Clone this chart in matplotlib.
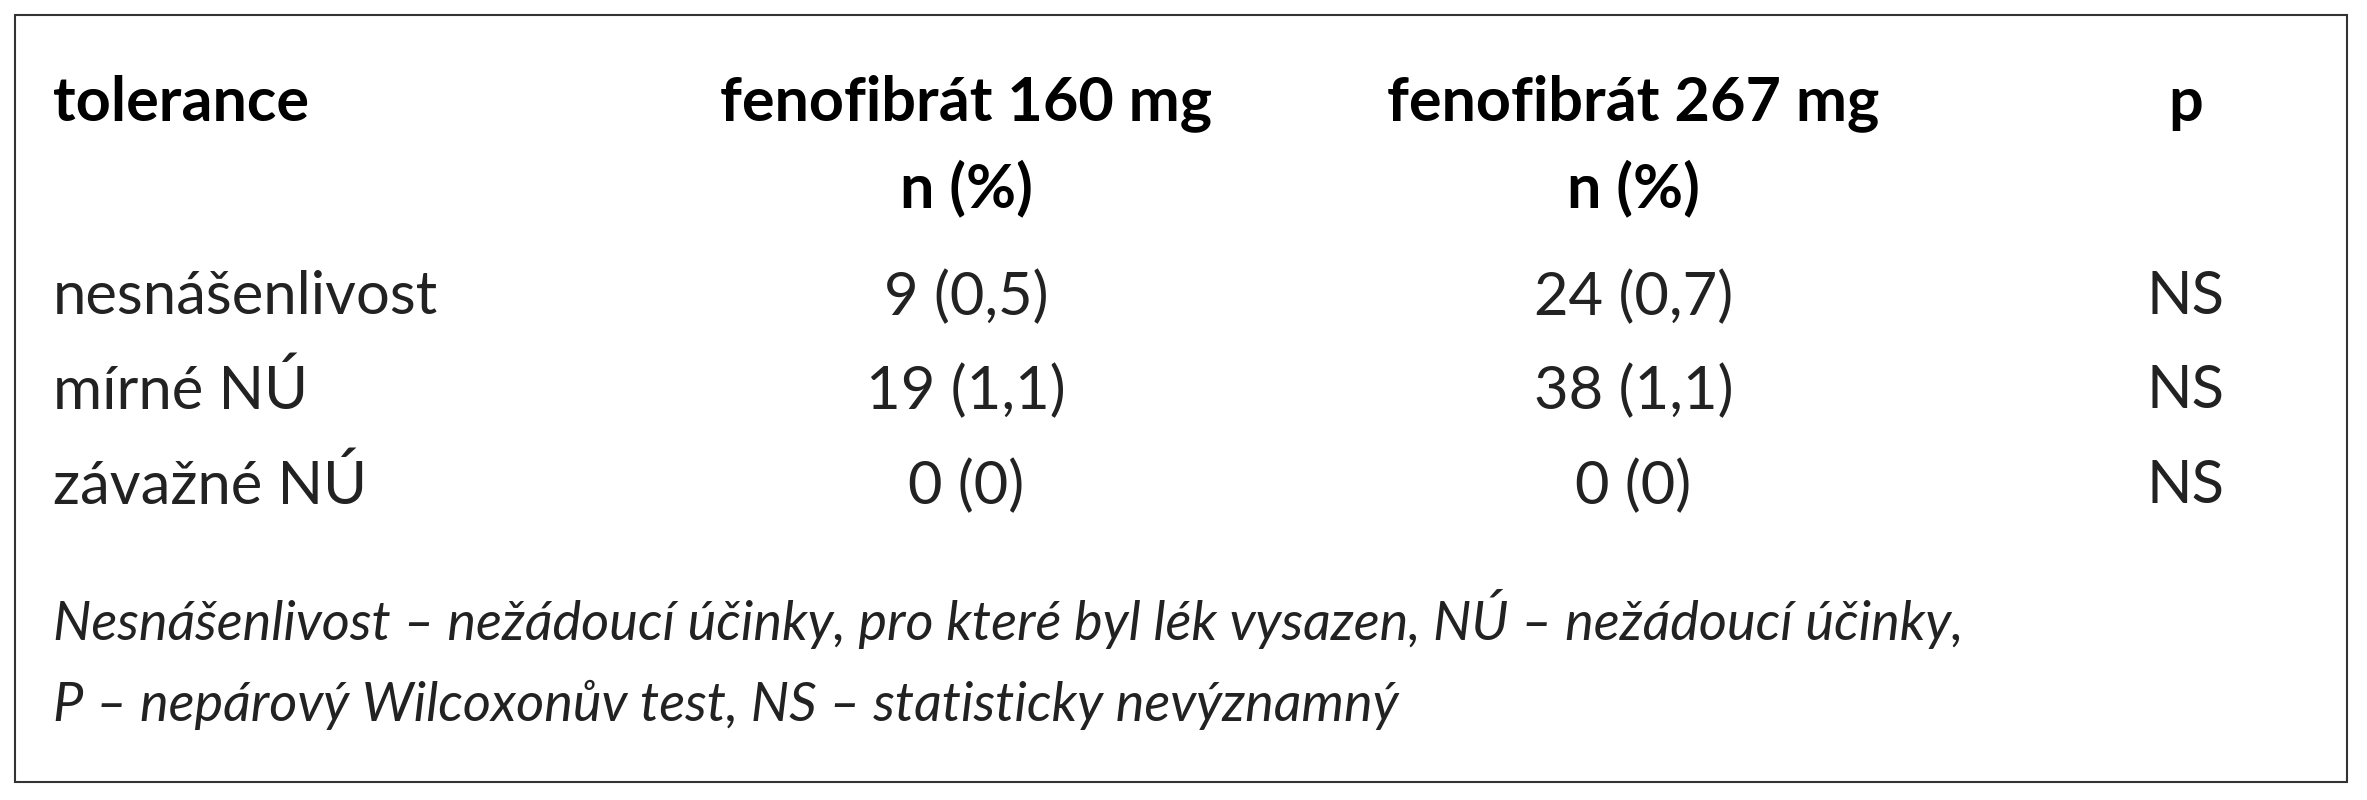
import matplotlib.pyplot as plt
from matplotlib.patches import Rectangle

plt.rcParams['font.family'] = ['Lato', 'DejaVu Sans']

# table content
headers = ['tolerance', 'fenofibrát 160 mg', 'fenofibrát 267 mg', 'p']
sub_header = 'n (%)'
row_labels = ['nesnášenlivost', 'mírné NÚ', 'závažné NÚ']
col160 = ['9 (0,5)', '19 (1,1)', '0 (0)']
col267 = ['24 (0,7)', '38 (1,1)', '0 (0)']
p_vals = ['NS', 'NS', 'NS']
footnote = ['Nesnášenlivost – nežádoucí účinky, pro které byl lék vysazen, NÚ – nežádoucí účinky,',
            'P – nepárový Wilcoxonův test, NS – statisticky nevýznamný']

W, H = 1568, 530
fig = plt.figure(figsize=(23.67, 8), dpi=100)
ax = fig.add_axes([0, 0, 1, 1])
ax.set_xlim(0, W)
ax.set_ylim(H, 0)
ax.axis('off')

ax.add_patch(Rectangle((10, 10), 1545, 508, fill=False, lw=1.5, ec='#333333'))

fs = 43
fs_head = 44
col_x = [35, 640, 1082, 1448]
ax.text(col_x[0], 68, headers[0], fontsize=fs_head, fontweight='bold', va='center', ha='left')
for i in (1, 2, 3):
    ax.text(col_x[i], 68, headers[i], fontsize=fs_head, fontweight='bold', va='center', ha='center')
for i in (1, 2):
    ax.text(col_x[i], 125, sub_header, fontsize=fs_head, fontweight='bold', va='center', ha='center')

row_y = [197, 259, 322]
for j, y in enumerate(row_y):
    ax.text(col_x[0], y, row_labels[j], fontsize=fs, va='center', ha='left', color='#222222')
    ax.text(col_x[1], y, col160[j], fontsize=fs, va='center', ha='center', color='#222222')
    ax.text(col_x[2], y, col267[j], fontsize=fs, va='center', ha='center', color='#222222')
    ax.text(col_x[3], y, p_vals[j], fontsize=fs, va='center', ha='center', color='#222222')

for k, line in enumerate(footnote):
    ax.text(35, 410 + 57 * k, line, fontsize=39, style='italic', va='center', ha='left',
            color='#222222')

fig.savefig('out.png', dpi=100)
